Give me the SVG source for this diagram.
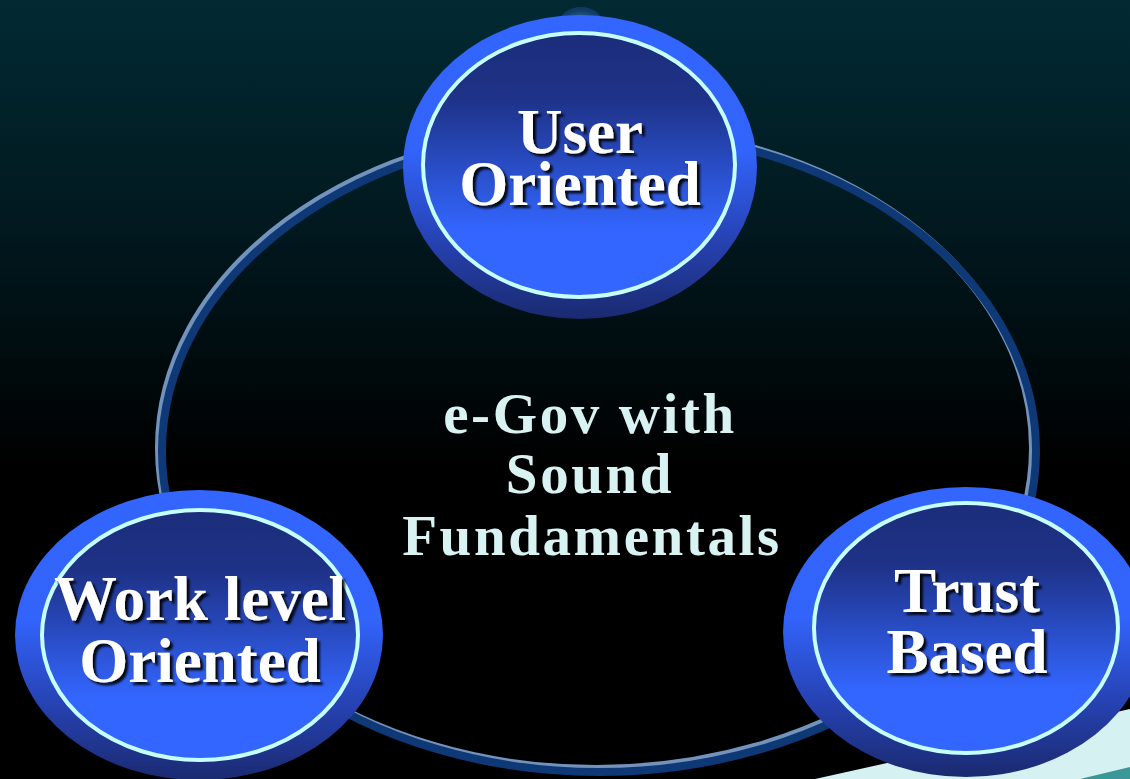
<svg xmlns="http://www.w3.org/2000/svg" width="1130" height="779" viewBox="0 0 1130 779">
<defs>
<linearGradient id="bg" x1="0" y1="0" x2="0" y2="1">
<stop offset="0" stop-color="#022a33"/>
<stop offset="0.3" stop-color="#01181e"/>
<stop offset="0.6" stop-color="#000000"/>
<stop offset="1" stop-color="#000000"/>
</linearGradient>
<linearGradient id="outer" x1="0" y1="0" x2="0" y2="1">
<stop offset="0" stop-color="#3366ff"/>
<stop offset="0.45" stop-color="#3263fa"/>
<stop offset="0.75" stop-color="#2641b0"/>
<stop offset="1" stop-color="#1a2a70"/>
</linearGradient>
<linearGradient id="inner" x1="0" y1="0" x2="0" y2="1">
<stop offset="0" stop-color="#1b2d7a"/>
<stop offset="0.25" stop-color="#1e3288"/>
<stop offset="0.75" stop-color="#3366ff"/>
<stop offset="1" stop-color="#3366ff"/>
</linearGradient>
<radialGradient id="bump" cx="0.5" cy="0.6" r="0.5">
<stop offset="0" stop-color="#2f7a66"/>
<stop offset="0.6" stop-color="#1f5a80"/>
<stop offset="1" stop-color="#123a66"/>
</radialGradient>
<filter id="shadow" x="-10%" y="-20%" width="130%" height="150%">
<feDropShadow dx="3" dy="3" stdDeviation="1" flood-color="#000000" flood-opacity="0.9"/>
</filter>
</defs>
<style>
.outer{fill:url(#outer);}
.inner{fill:url(#inner);stroke:#c6ffff;stroke-width:4;}
.lbl{font-family:"Liberation Serif","Times New Roman",serif;font-weight:bold;font-size:63px;fill:#ffffff;text-anchor:middle;filter:url(#shadow);}
.center{font-family:"Liberation Serif","Times New Roman",serif;font-weight:bold;font-size:57px;fill:#d9f3f3;text-anchor:middle;letter-spacing:2.6px;}
.ringlight{fill:none;stroke:#7393bd;stroke-width:8;}
.ringdark{fill:none;stroke:#0e3876;stroke-width:8;}
</style>
<rect x="0" y="0" width="1130" height="779" fill="url(#bg)"/>
<polygon points="815,779 1130,709 1130,779" fill="#d6f1f1"/>
<polygon points="1080,779 1130,767 1130,779" fill="#3a9898"/>
<g id="connectors">
<ellipse class="ringlight" cx="596" cy="448" rx="437" ry="321"/>
<ellipse class="ringdark" cx="599" cy="451" rx="437" ry="321"/>
</g>
<ellipse cx="581" cy="22" rx="21" ry="15" fill="url(#bump)"/>
<text class="center" x="590" y="433">e-Gov with</text>
<text class="center" x="590" y="493">Sound</text>
<text class="center" x="592" y="555">Fundamentals</text>
<g id="node-user">
<ellipse class="outer" cx="580" cy="167" rx="177" ry="152"/>
<ellipse class="inner" cx="579" cy="165" rx="156" ry="132"/>
<text class="lbl" x="580" y="153">User</text>
<text class="lbl" x="580" y="205">Oriented</text>
</g>
<g id="node-work">
<ellipse class="outer" cx="199" cy="635" rx="184" ry="145"/>
<ellipse class="inner" cx="200" cy="635" rx="158" ry="125"/>
<text class="lbl" x="200" y="620">Work level</text>
<text class="lbl" x="200" y="682">Oriented</text>
</g>
<g id="node-trust">
<ellipse class="outer" cx="966" cy="632" rx="183" ry="145"/>
<ellipse class="inner" cx="966" cy="628" rx="152" ry="125"/>
<text class="lbl" x="967" y="612">Trust</text>
<text class="lbl" x="967" y="673">Based</text>
</g>
</svg>
